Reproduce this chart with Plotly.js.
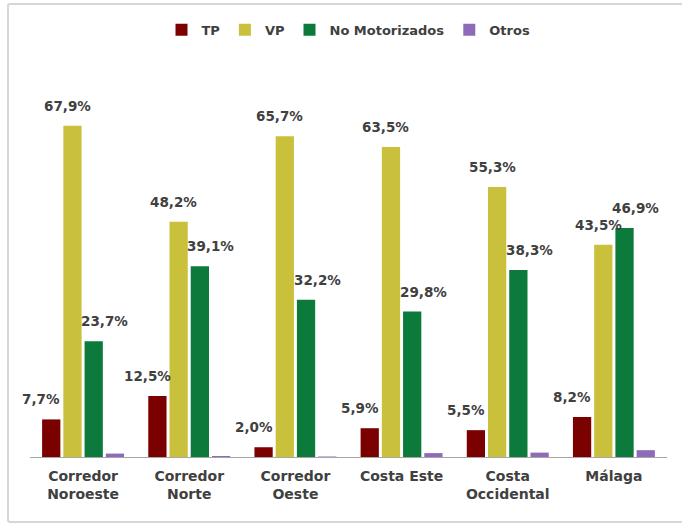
<!DOCTYPE html>
<html>
<head>
<meta charset="utf-8">
<script src="https://cdn.plot.ly/plotly-3.0.1.min.js"></script>
<style>
  body { margin: 0; background: white; }
  #frame { position: absolute; left: 7px; top: 3px; width: 700px; height: 516px;
           border: 2px solid #d6d6d6; border-radius: 3px; }
  #chart { position: absolute; left: 0; top: 0; width: 682px; height: 523px; }
</style>
</head>
<body>
<div id="frame"></div>
<div id="chart"></div>
<script>
// Reparto modal por ámbito
const zonas = ['Corredor<br>Noroeste', 'Corredor<br>Norte', 'Corredor<br>Oeste', 'Costa Este', 'Costa<br>Occidental', 'Málaga'];
const tp = [7.7, 12.5, 2.0, 5.9, 5.5, 8.2];
const vp = [67.9, 48.2, 65.7, 63.5, 55.3, 43.5];
const noMot = [23.7, 39.1, 32.2, 29.8, 38.3, 46.9];
const otros = [0.7, 0.2, 0.1, 0.8, 0.9, 1.4];

const series = [
    { name: 'TP', y: tp, color: '#7b0000', label: true, dx: -10 },
    { name: 'VP', y: vp, color: '#c9c03c', label: true, dx: -5 },
    { name: 'No Motorizados', y: noMot, color: '#0b7a3a', label: true, dx: 11 },
    { name: 'Otros', y: otros, color: '#8e6bb8', label: false, dx: 0 }
];

const fuente = 'DejaVu Sans, Arial';
const fmt = v => v.toFixed(1).replace('.', ',') + '%';

const data = series.map(s => ({
    type: 'bar',
    name: s.name,
    x: zonas.map((z, i) => i),
    y: s.y,
    marker: { color: s.color },
    hoverinfo: 'none'
}));

// etiquetas de datos (desplazadas como en el original)
const annotations = [];
series.forEach((s, k) => {
    if (!s.label) return;
    s.y.forEach((v, i) => {
        annotations.push({
            x: i + (k - 1.5) * 0.2,
            y: v,
            xref: 'x', yref: 'y',
            text: fmt(v),
            showarrow: false,
            yanchor: 'bottom',
            yshift: 10,
            xshift: s.dx,
            font: { family: fuente, size: 13.5, color: '#404040', weight: 'bold' }
        });
    });
});

const layout = {
    width: 682,
    height: 523,
    margin: { l: 30, r: 15, t: 70, b: 66, autoexpand: false },
    paper_bgcolor: 'rgba(0,0,0,0)',
    plot_bgcolor: 'rgba(0,0,0,0)',
    barmode: 'group',
    bargap: 0.2,
    bargroupgap: 0.14,
    showlegend: true,
    legend: {
        orientation: 'h',
        x: 0.5, xanchor: 'center',
        yref: 'container',
        y: 0.943, yanchor: 'middle',
        font: { family: fuente, size: 13, color: '#404040', weight: 'bold' },
        itemwidth: 30,
        tracegroupgap: 0,
        traceorder: 'normal'
    },
    xaxis: {
        tickvals: zonas.map((z, i) => i),
        ticktext: zonas,
        range: [-0.5, 5.5],
        showline: true,
        linecolor: '#a6a6a6',
        linewidth: 1,
        ticks: '',
        ticklabelstandoff: 6,
        tickfont: { family: fuente, size: 14, color: '#404040', weight: 'bold' },
        fixedrange: true
    },
    yaxis: {
        range: [0, 79.3],
        visible: false,
        showgrid: false,
        zeroline: false,
        fixedrange: true
    },
    annotations: annotations
};

Plotly.newPlot('chart', data, layout, { displayModeBar: false, staticPlot: true });
</script>
</body>
</html>
